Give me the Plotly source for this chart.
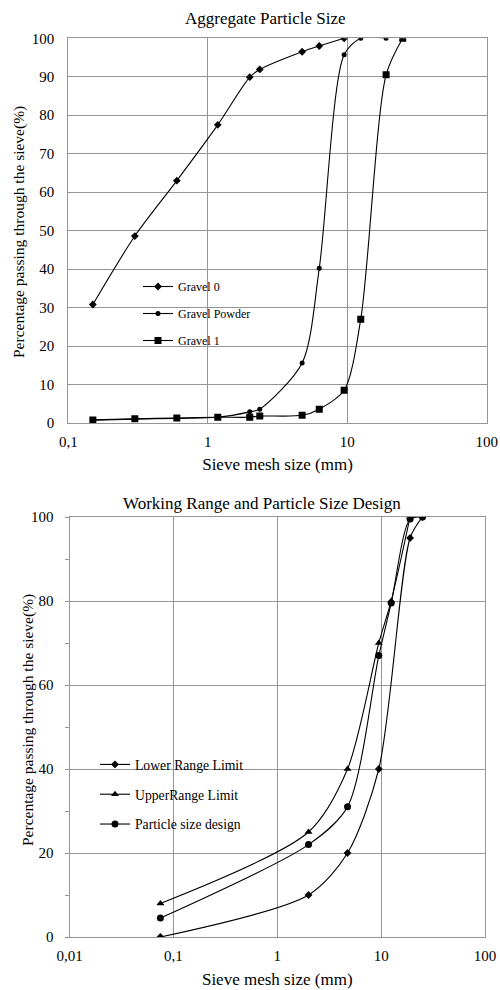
import plotly.graph_objects as go

# ---------- data: top chart (Aggregate Particle Size) ----------
sieve_gravel0 = [0.15, 0.3, 0.6, 1.18, 2, 2.36, 4.75, 6.3, 9.5]
pass_gravel0 = [30.8, 48.6, 63, 77.5, 89.9, 91.9, 96.5, 98.0, 100]

sieve_powder = [0.15, 0.3, 0.6, 1.18, 2, 2.36, 4.75, 6.3, 9.5, 12.5, 19]
pass_powder = [0.7, 1.0, 1.2, 1.5, 2.9, 3.6, 15.6, 40.2, 95.7, 100, 100]

sieve_gravel1 = [0.15, 0.3, 0.6, 1.18, 2, 2.36, 4.75, 6.3, 9.5, 12.5, 19, 25]
pass_gravel1 = [0.8, 1.1, 1.3, 1.5, 1.5, 1.8, 2.0, 3.6, 8.5, 27, 90.5, 100]

top_xtick_vals = [0.1, 1, 10, 100]
top_xtick_text = ["0,1", "1", "10", "100"]
top_ytick_vals = [0, 10, 20, 30, 40, 50, 60, 70, 80, 90, 100]

# ---------- data: bottom chart (Working Range and Particle Size Design) ----------
sieve_lower = [0.075, 2, 4.75, 9.5, 19, 25]
pass_lower = [0, 10, 20, 40, 95, 100]

sieve_upper = [0.075, 2, 4.75, 9.5, 12.5, 19]
pass_upper = [8, 25, 40, 70, 80, 100]

sieve_design = [0.075, 2, 4.75, 9.5, 12.5, 19, 25]
pass_design = [4.5, 22, 31, 67, 79.5, 99.5, 100]

bot_xtick_vals = [0.01, 0.1, 1, 10, 100]
bot_xtick_text = ["0,01", "0,1", "1", "10", "100"]
bot_ytick_vals = [0, 20, 40, 60, 80, 100]

FONT = "Liberation Serif"
GRID = "#959595"
W, H = 500, 990

def px(x):
    return x / W

def py(y):
    return 1 - y / H

fig = go.Figure()

line = dict(color="black", width=1.1, shape="spline", smoothing=0.8)

fig.add_trace(go.Scatter(x=sieve_gravel0, y=pass_gravel0, name="Gravel 0", mode="lines+markers",
                         line=line, marker=dict(symbol="diamond", size=6, color="black"),
                         xaxis="x", yaxis="y", legend="legend", legendgroup="a"))
fig.add_trace(go.Scatter(x=sieve_powder, y=pass_powder, name="Gravel Powder", mode="lines+markers",
                         line=line, marker=dict(symbol="circle", size=5, color="black"),
                         xaxis="x", yaxis="y", legend="legend", legendgroup="b"))
fig.add_trace(go.Scatter(x=sieve_gravel1, y=pass_gravel1, name="Gravel 1", mode="lines+markers",
                         line=line, marker=dict(symbol="square", size=7, color="black"),
                         xaxis="x", yaxis="y", legend="legend", legendgroup="c"))

fig.add_trace(go.Scatter(x=sieve_lower, y=pass_lower, name="Lower Range Limit", mode="lines+markers",
                         line=line, marker=dict(symbol="diamond", size=6, color="black"),
                         xaxis="x2", yaxis="y2", legend="legend2", legendgroup="d"))
fig.add_trace(go.Scatter(x=sieve_upper, y=pass_upper, name="UpperRange Limit", mode="lines+markers",
                         line=line, marker=dict(symbol="triangle-up", size=7, color="black"),
                         xaxis="x2", yaxis="y2", legend="legend2", legendgroup="e"))
fig.add_trace(go.Scatter(x=sieve_design, y=pass_design, name="Particle size design", mode="lines+markers",
                         line=line, marker=dict(symbol="circle", size=7, color="black"),
                         xaxis="x2", yaxis="y2", legend="legend2", legendgroup="f"))

axis_common = dict(showline=True, mirror=True, linecolor=GRID, linewidth=1, automargin=False,
                   showgrid=True, gridcolor=GRID, gridwidth=1, zeroline=False,
                   tickfont=dict(family=FONT, size=15, color="black"))

YTITLE = "Percentage passing through the sieve(%)"

fig.update_layout(
    width=W, height=H,
    margin=dict(l=0, r=0, t=0, b=0, autoexpand=False),
    paper_bgcolor="white", plot_bgcolor="white",
    font=dict(family=FONT, color="black"),
    xaxis=dict(axis_common, type="log", range=[-1, 2], domain=[px(68.3), px(486.7)],
               tickvals=top_xtick_vals, ticktext=top_xtick_text, anchor="y",
               ticks="", ticklabelstandoff=5,
               title=dict(text="Sieve mesh size (mm)", font=dict(family=FONT, size=17), standoff=9)),
    yaxis=dict(axis_common, range=[0, 100], domain=[py(423), py(38.3)], anchor="x",
               tickvals=top_ytick_vals, ticks="", ticklabelstandoff=10),
    xaxis2=dict(axis_common, type="log", range=[-2, 2], domain=[px(69.5), px(485)],
                tickvals=bot_xtick_vals, ticktext=bot_xtick_text, anchor="y2",
                ticks="", ticklabelstandoff=5,
                title=dict(text="Sieve mesh size (mm)", font=dict(family=FONT, size=17), standoff=10)),
    yaxis2=dict(axis_common, range=[0, 100], domain=[py(937), py(517)], anchor="x2",
                tickvals=bot_ytick_vals, ticks="outside", ticklen=4, tickcolor=GRID, ticklabelstandoff=8,
                minor=dict(dtick=10, ticks="outside", ticklen=4, tickcolor=GRID, showgrid=False)),
    legend=dict(x=px(138), y=py(272), xanchor="left", yanchor="top", bgcolor="rgba(0,0,0,0)",
                font=dict(family=FONT, size=12), tracegroupgap=8, itemwidth=30),
    legend2=dict(x=px(95), y=py(749), xanchor="left", yanchor="top", bgcolor="rgba(0,0,0,0)",
                 font=dict(family=FONT, size=13.7), tracegroupgap=9, itemwidth=30),
    annotations=[
        dict(text="Aggregate Particle Size", x=px(265), y=py(18), xref="paper", yref="paper",
             showarrow=False, font=dict(family=FONT, size=17), xanchor="center", yanchor="middle"),
        dict(text="Working Range and Particle Size Design", x=px(262), y=py(503), xref="paper", yref="paper",
             showarrow=False, font=dict(family=FONT, size=17), xanchor="center", yanchor="middle"),
        dict(text=YTITLE, x=px(19), y=py(232), xref="paper", yref="paper", textangle=-90,
             showarrow=False, font=dict(family=FONT, size=15.5), xanchor="center", yanchor="middle"),
        dict(text=YTITLE, x=px(28), y=py(720), xref="paper", yref="paper", textangle=-90,
             showarrow=False, font=dict(family=FONT, size=15.5), xanchor="center", yanchor="middle"),
    ],
)

fig.write_html("out.html", config={"displayModeBar": False},
               post_script="document.body.style.margin='0';document.body.style.overflow='hidden';")
